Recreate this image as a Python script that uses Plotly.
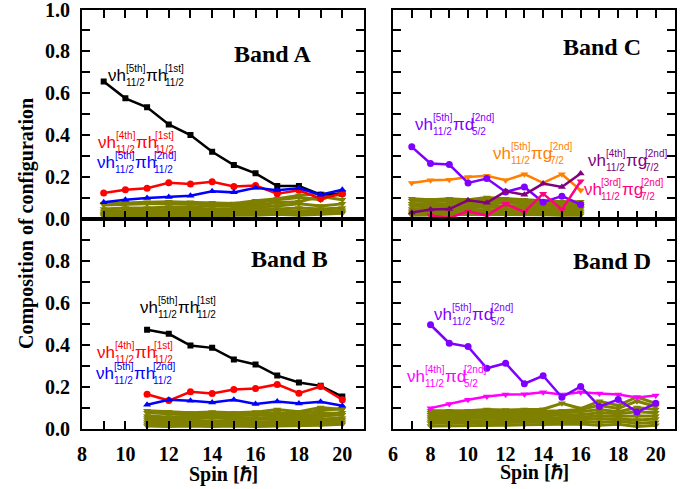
import plotly.graph_objects as go

# ---------------- data ----------------
# Band A (spin 9..20)
spin_A = [9, 10, 11, 12, 13, 14, 15, 16, 17, 18, 19, 20]
A_black = [0.655, 0.575, 0.532, 0.450, 0.399, 0.319, 0.256, 0.216, 0.155, 0.155, 0.114, 0.120]
A_red = [0.122, 0.138, 0.145, 0.171, 0.165, 0.176, 0.153, 0.158, 0.119, 0.135, 0.095, 0.120]
A_blue = [0.078, 0.090, 0.098, 0.103, 0.109, 0.130, 0.125, 0.147, 0.135, 0.145, 0.114, 0.138]
A_olive1 = [0.070, 0.075, 0.078, 0.080, 0.078, 0.075, 0.072, 0.085, 0.095, 0.110, 0.120, 0.110]
A_olive2 = [0.065, 0.068, 0.070, 0.070, 0.068, 0.070, 0.065, 0.075, 0.090, 0.100, 0.090, 0.125]
A_olive3 = [0.045, 0.050, 0.050, 0.055, 0.055, 0.060, 0.060, 0.065, 0.075, 0.080, 0.105, 0.090]
A_olive4 = [0.035, 0.038, 0.040, 0.042, 0.045, 0.045, 0.048, 0.055, 0.060, 0.070, 0.060, 0.070]
A_olive5 = [0.025, 0.030, 0.030, 0.035, 0.035, 0.035, 0.040, 0.045, 0.045, 0.050, 0.045, 0.050]
A_olive6 = [0.020, 0.020, 0.025, 0.025, 0.030, 0.025, 0.030, 0.035, 0.040, 0.035, 0.040, 0.030]
A_olive7 = [0.015, 0.015, 0.020, 0.020, 0.020, 0.015, 0.020, 0.025, 0.030, 0.025, 0.030, 0.040]
A_olive8 = [0.010, 0.010, 0.012, 0.015, 0.012, 0.010, 0.015, 0.015, 0.020, 0.015, 0.020, 0.025]

# Band B (spin 11..20)
spin_B = [11, 12, 13, 14, 15, 16, 17, 18, 19, 20]
B_black = [0.470, 0.451, 0.395, 0.384, 0.329, 0.305, 0.252, 0.219, 0.203, 0.152]
B_red = [0.163, 0.133, 0.175, 0.167, 0.186, 0.190, 0.210, 0.168, 0.200, 0.137]
B_blue = [0.113, 0.137, 0.132, 0.124, 0.137, 0.117, 0.129, 0.119, 0.127, 0.108]
B_olive1 = [0.085, 0.080, 0.075, 0.078, 0.075, 0.078, 0.090, 0.080, 0.100, 0.090]
B_olive2 = [0.075, 0.070, 0.065, 0.068, 0.070, 0.070, 0.075, 0.070, 0.085, 0.095]
B_olive3 = [0.060, 0.055, 0.058, 0.060, 0.060, 0.062, 0.065, 0.060, 0.070, 0.075]
B_olive4 = [0.050, 0.045, 0.050, 0.050, 0.052, 0.050, 0.055, 0.050, 0.060, 0.065]
B_olive5 = [0.040, 0.038, 0.040, 0.035, 0.040, 0.042, 0.045, 0.040, 0.045, 0.050]
B_olive6 = [0.030, 0.028, 0.030, 0.030, 0.032, 0.030, 0.035, 0.030, 0.035, 0.040]
B_olive7 = [0.020, 0.020, 0.022, 0.020, 0.020, 0.022, 0.025, 0.020, 0.025, 0.030]
B_olive8 = [0.012, 0.010, 0.012, 0.010, 0.012, 0.010, 0.012, 0.012, 0.015, 0.020]

# Band C (spin 7..16)
spin_C = [7, 8, 9, 10, 11, 12, 13, 14, 15, 16]
spin_C_pink = [8, 9, 10, 11, 12, 13, 14, 15, 16]
C_violet = [0.343, 0.263, 0.258, 0.170, 0.191, 0.127, 0.151, 0.078, 0.107, 0.067]
C_orange = [0.170, 0.183, 0.186, 0.199, 0.204, 0.183, 0.212, 0.170, 0.212, 0.135]
C_purple = [0.029, 0.043, 0.045, 0.087, 0.075, 0.130, 0.114, 0.167, 0.151, 0.215]
C_pink = [0.014, 0.003, 0.034, 0.014, 0.070, 0.030, 0.119, 0.042, 0.178]
C_olive1 = [0.095, 0.090, 0.095, 0.090, 0.100, 0.095, 0.090, 0.085, 0.080, 0.080]
C_olive2 = [0.085, 0.080, 0.085, 0.085, 0.090, 0.085, 0.080, 0.078, 0.075, 0.070]
C_olive3 = [0.070, 0.070, 0.072, 0.075, 0.078, 0.075, 0.070, 0.068, 0.065, 0.060]
C_olive4 = [0.060, 0.058, 0.060, 0.062, 0.065, 0.060, 0.062, 0.060, 0.055, 0.050]
C_olive5 = [0.045, 0.050, 0.048, 0.050, 0.055, 0.050, 0.052, 0.048, 0.045, 0.045]
C_olive6 = [0.035, 0.035, 0.038, 0.040, 0.042, 0.040, 0.040, 0.038, 0.035, 0.035]
C_olive7 = [0.025, 0.025, 0.028, 0.030, 0.030, 0.028, 0.030, 0.028, 0.025, 0.025]
C_olive8 = [0.015, 0.015, 0.018, 0.020, 0.020, 0.018, 0.020, 0.018, 0.015, 0.015]

# Band D (spin 8..20)
spin_D = [8, 9, 10, 11, 12, 13, 14, 15, 16, 17, 18, 19, 20]
D_violet = [0.494, 0.406, 0.390, 0.287, 0.311, 0.213, 0.251, 0.149, 0.200, 0.105, 0.138, 0.078, 0.120]
D_magenta = [0.097, 0.117, 0.137, 0.152, 0.162, 0.163, 0.173, 0.162, 0.173, 0.167, 0.162, 0.148, 0.157]
D_olive1 = [0.085, 0.085, 0.085, 0.090, 0.088, 0.090, 0.092, 0.120, 0.095, 0.130, 0.110, 0.150, 0.120]
D_olive2 = [0.075, 0.075, 0.078, 0.080, 0.078, 0.080, 0.082, 0.085, 0.090, 0.110, 0.095, 0.130, 0.105]
D_olive3 = [0.065, 0.065, 0.068, 0.070, 0.068, 0.070, 0.070, 0.075, 0.080, 0.090, 0.080, 0.100, 0.090]
D_olive4 = [0.055, 0.055, 0.058, 0.060, 0.058, 0.060, 0.060, 0.065, 0.065, 0.075, 0.070, 0.080, 0.075]
D_olive5 = [0.045, 0.045, 0.048, 0.050, 0.048, 0.050, 0.050, 0.052, 0.055, 0.060, 0.058, 0.060, 0.060]
D_olive6 = [0.035, 0.035, 0.035, 0.038, 0.038, 0.040, 0.040, 0.042, 0.045, 0.045, 0.045, 0.040, 0.045]
D_olive7 = [0.025, 0.025, 0.025, 0.028, 0.028, 0.030, 0.030, 0.032, 0.035, 0.030, 0.035, 0.025, 0.030]
D_olive8 = [0.012, 0.012, 0.012, 0.015, 0.015, 0.018, 0.018, 0.020, 0.022, 0.015, 0.020, 0.010, 0.015]

left_xticks = [8, 10, 12, 14, 16, 18, 20]
right_xticks = [6, 8, 10, 12, 14, 16, 18, 20]
top_yticks = [0.0, 0.2, 0.4, 0.6, 0.8, 1.0]
bottom_yticks = [0.0, 0.2, 0.4, 0.6, 0.8]

# ---------------- styles ----------------
OLIVE = "#808000"
SERIF = "Liberation Serif, Times New Roman, serif"
SANS = "Liberation Sans, Arial, sans-serif"
W, H = 697, 489


def px_x(p):  # page pixel -> paper fraction
    return p / W


def px_y(p):
    return 1 - p / H


fig = go.Figure()


def add_line(xs, ys, color, symbol, ax, msize=6, lw=2.5):
    fig.add_trace(go.Scatter(
        x=xs, y=ys, mode="lines+markers",
        line=dict(color=color, width=lw),
        marker=dict(color=color, symbol=symbol, size=msize),
        xaxis="x" + ax, yaxis="y" + ax, showlegend=False,
        hoverinfo="x+y"))


olives = {
    "": (spin_A, [A_olive1, A_olive2, A_olive3, A_olive4, A_olive5, A_olive6, A_olive7, A_olive8]),
    "3": (spin_B, [B_olive1, B_olive2, B_olive3, B_olive4, B_olive5, B_olive6, B_olive7, B_olive8]),
    "2": (spin_C, [C_olive1, C_olive2, C_olive3, C_olive4, C_olive5, C_olive6, C_olive7, C_olive8]),
    "4": (spin_D, [D_olive1, D_olive2, D_olive3, D_olive4, D_olive5, D_olive6, D_olive7, D_olive8]),
}
for ax, (xs, series) in olives.items():
    for s in series:
        add_line(xs, s, OLIVE, "triangle-down", ax, msize=7, lw=3)

# Band A  -> axes x / y
add_line(spin_A, A_black, "black", "square", "", msize=6)
add_line(spin_A, A_red, "#FF0000", "circle", "", msize=7)
add_line(spin_A, A_blue, "#0000FF", "triangle-up", "", msize=7)
# Band B  -> axes x3 / y3
add_line(spin_B, B_black, "black", "square", "3", msize=6)
add_line(spin_B, B_red, "#FF0000", "circle", "3", msize=7)
add_line(spin_B, B_blue, "#0000FF", "triangle-up", "3", msize=7)
# Band C  -> axes x2 / y2
add_line(spin_C, C_orange, "#FF8000", "triangle-down", "2", msize=7)
add_line(spin_C, C_violet, "#7F00FF", "circle", "2", msize=7)
add_line(spin_C, C_purple, "#800080", "triangle-up", "2", msize=7)
add_line(spin_C_pink, C_pink, "#FF0080", "triangle-down", "2", msize=7)
# Band D  -> axes x4 / y4
add_line(spin_D, D_magenta, "#FF00FF", "triangle-down", "4", msize=7)
add_line(spin_D, D_violet, "#7F00FF", "circle", "4", msize=7)

# ---------------- axes ----------------
xl = [px_x(82), px_x(364)]
xr = [px_x(393), px_x(674.5)]
yt = [px_y(218.5), px_y(9.5)]
yb = [px_y(428.5), px_y(218.5)]

tickfont = dict(family=SERIF, size=20, color="black", weight="bold")


def xaxis(domain, anchor, rng, ticks, show):
    return dict(domain=domain, anchor=anchor, range=rng, automargin=False,
                tickvals=ticks, ticktext=[str(t) for t in ticks],
                showticklabels=show, ticks="inside", ticklen=8, tickwidth=2, tickcolor="black",
                minor=dict(dtick=1, tick0=0, ticks="inside", ticklen=8, tickwidth=2, tickcolor="black"),
                showline=True, linecolor="black", linewidth=2, mirror="ticks",
                showgrid=False, zeroline=False, tickfont=tickfont,
                ticklabelstandoff=6, ticklabeloverflow="allow")


def yaxis(domain, anchor, ticks, show):
    return dict(domain=domain, anchor=anchor, range=[0, 1], automargin=False,
                tickvals=ticks, ticktext=["%.1f" % t for t in ticks],
                showticklabels=show, ticks="inside", ticklen=8, tickwidth=2, tickcolor="black",
                minor=dict(dtick=0.1, tick0=0, ticks="inside", ticklen=8, tickwidth=2, tickcolor="black"),
                showline=True, linecolor="black", linewidth=2, mirror="ticks",
                showgrid=False, zeroline=False, tickfont=tickfont,
                ticklabelstandoff=6, ticklabeloverflow="allow")


fig.update_layout(
    template="none",
    width=W, height=H, margin=dict(l=0, r=0, t=0, b=0, pad=0), autosize=False,
    paper_bgcolor="white", plot_bgcolor="white",
    xaxis=xaxis(xl, "y", [8, 21], left_xticks, False),
    yaxis=yaxis(yt, "x", top_yticks, True),
    xaxis2=xaxis(xr, "y2", [6, 21], right_xticks, False),
    yaxis2=yaxis(yt, "x2", top_yticks, False),
    xaxis3=xaxis(xl, "y3", [8, 21], left_xticks, True),
    yaxis3=yaxis(yb, "x3", bottom_yticks, True),
    xaxis4=xaxis(xr, "y4", [6, 21], right_xticks, True),
    yaxis4=yaxis(yb, "x4", bottom_yticks, False),
)

# ---------------- annotations ----------------
ann = []

CW = {"ν": 0.50, "h": 0.556, "π": 0.57, "d": 0.556, "g": 0.556, "[": 0.278, "]": 0.278,
      "t": 0.278, "s": 0.5, "n": 0.556, "r": 0.333, "/": 0.278}


def tw(s, size):
    return sum(CW.get(c, 0.556) for c in s) * size


MAIN, SCR = 17, 10
SUP_DY, SUB_DY = 7, -7


def label(ax, x, y, pieces, color):
    cur = 0.0
    for base, sup, sub in pieces:
        ann.append(dict(x=x, y=y, xref="x" + ax, yref="y" + ax, text=base, showarrow=False,
                        xanchor="left", yanchor="middle", xshift=cur, borderpad=0,
                        font=dict(family=SANS, size=MAIN, color=color)))
        cur += tw(base, MAIN)
        for t, dy in ((sup, SUP_DY), (sub, SUB_DY)):
            ann.append(dict(x=x, y=y, xref="x" + ax, yref="y" + ax, text=t, showarrow=False,
                            xanchor="left", yanchor="middle", xshift=cur, yshift=dy, borderpad=0,
                            font=dict(family=SANS, size=SCR, color=color)))
        cur += max(tw(sup, SCR), tw(sub, SCR)) + 0.5


label("", 9.14, 0.682, [("νh", "[5th]", "11/2"), ("πh", "[1st]", "11/2")], "black")
label("", 8.69, 0.364, [("νh", "[4th]", "11/2"), ("πh", "[1st]", "11/2")], "#FF0000")
label("", 8.65, 0.268, [("νh", "[5th]", "11/2"), ("πh", "[2nd]", "11/2")], "#0000FF")

label("3", 10.64, 0.577, [("νh", "[5th]", "11/2"), ("πh", "[1st]", "11/2")], "black")
label("3", 8.63, 0.363, [("νh", "[4th]", "11/2"), ("πh", "[1st]", "11/2")], "#FF0000")
label("3", 8.60, 0.263, [("νh", "[5th]", "11/2"), ("πh", "[2nd]", "11/2")], "#0000FF")

label("2", 7.13, 0.451, [("νh", "[5th]", "11/2"), ("πd", "[2nd]", "5/2")], "#7F00FF")
label("2", 11.29, 0.311, [("νh", "[5th]", "11/2"), ("πg", "[2nd]", "7/2")], "#FF8000")
label("2", 16.32, 0.276, [("νh", "[4th]", "11/2"), ("πg", "[2nd]", "7/2")], "#800080")
label("2", 16.10, 0.141, [("νh", "[3rd]", "11/2"), ("πg", "[2nd]", "7/2")], "#FF0080")

label("4", 8.15, 0.545, [("νh", "[5th]", "11/2"), ("πd", "[2nd]", "5/2")], "#7F00FF")
label("4", 6.68, 0.247, [("νh", "[4th]", "11/2"), ("πd", "[2nd]", "5/2")], "#FF00FF")

band_font = dict(family=SERIF, size=24, color="black", weight="bold")
for ax, x, y, t in (("", 16.80, 0.788, "Band A"), ("3", 17.55, 0.808, "Band B"),
                    ("2", 17.12, 0.819, "Band C"), ("4", 17.65, 0.800, "Band D")):
    ann.append(dict(x=x, y=y, xref="x" + ax, yref="y" + ax, text=t, showarrow=False,
                    xanchor="center", yanchor="middle", font=band_font))

title_font = dict(family=SERIF, size=20, color="black", weight="bold")
ann.append(dict(x=px_x(27), y=px_y(224), xref="paper", yref="paper", text="Composition of configuration",
                textangle=-90, showarrow=False, xanchor="center", yanchor="middle", font=title_font))
ann.append(dict(x=px_x(223), y=px_y(474), xref="paper", yref="paper", text="Spin [ℏ]",
                showarrow=False, xanchor="center", yanchor="middle", font=title_font))
ann.append(dict(x=px_x(534), y=px_y(472), xref="paper", yref="paper", text="Spin [ℏ]",
                showarrow=False, xanchor="center", yanchor="middle", font=title_font))

fig.update_layout(annotations=ann)
fig.write_html("out.html", config={"displayModeBar": False},
               post_script="document.body.style.margin='0';document.body.style.overflow='hidden';")
